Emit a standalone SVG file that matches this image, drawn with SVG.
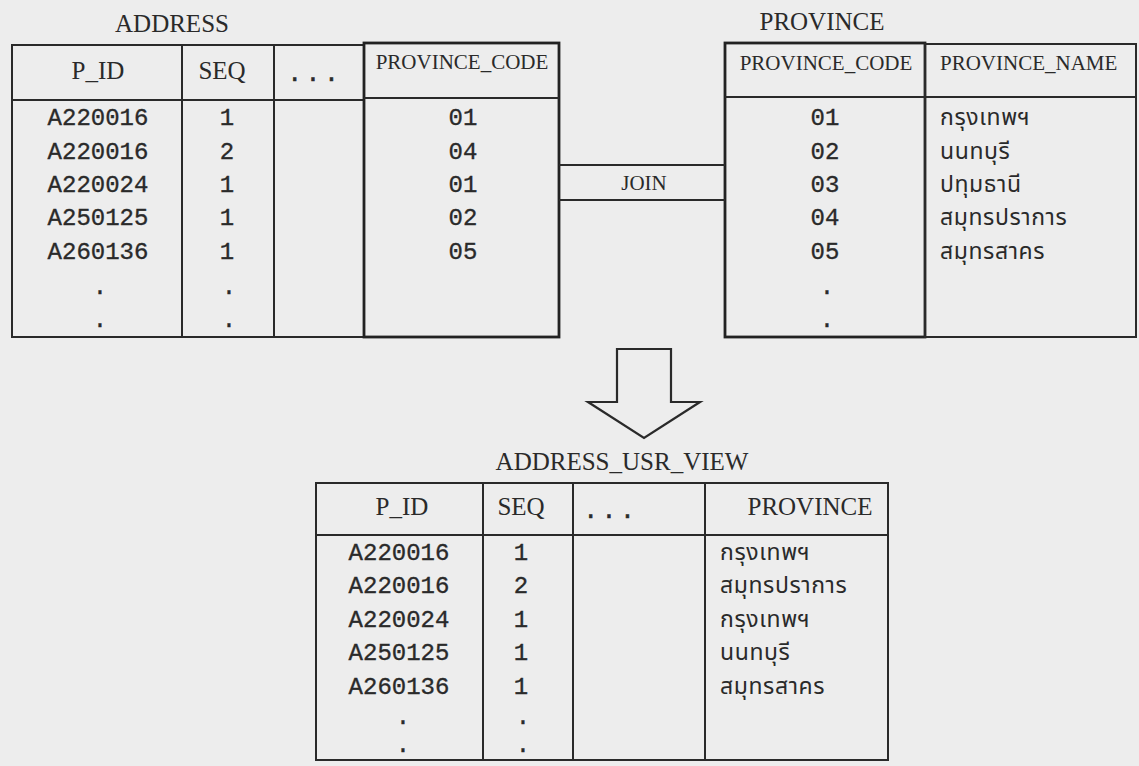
<svg xmlns="http://www.w3.org/2000/svg" width="1139" height="766" viewBox="0 0 1139 766">
<style>
.bg{fill:#ededed}
.t{fill:none;stroke:#2a2a2a;stroke-width:2}
.tk{fill:none;stroke:#222;stroke-width:2.8}
.ttl{font-family:"Liberation Serif",serif;font-size:25px;fill:#2a2a2a}
.hd{font-family:"Liberation Serif",serif;font-size:25px;fill:#2a2a2a;text-anchor:middle}
.hs{font-family:"Liberation Serif",serif;font-size:21px;fill:#2a2a2a}
.d{font-family:"Liberation Mono",monospace;font-size:24px;fill:#2a2a2a;stroke:#2a2a2a;stroke-width:0.35;text-anchor:middle}
.dots{font-family:"Liberation Mono",monospace;font-size:24px;fill:#2a2a2a;stroke:#2a2a2a;stroke-width:0.6;text-anchor:middle;letter-spacing:4px}
.th{font-family:"Noto Sans Thai","Noto Sans","DejaVu Sans",sans-serif;font-size:23px;fill:#2a2a2a;letter-spacing:0.6px}
.ln{fill:none;stroke:#2a2a2a;stroke-width:2.2}
</style>
<rect class="bg" x="0" y="0" width="1139" height="766"/>

<g id="address">
<text class="ttl" x="172" y="32" text-anchor="middle">ADDRESS</text>
<rect class="t" x="12" y="45" width="352" height="292"/>
<line class="t" x1="12" y1="100" x2="364" y2="100"/>
<line class="t" x1="182" y1="45" x2="182" y2="337"/>
<line class="t" x1="274" y1="45" x2="274" y2="337"/>
<text class="hd" x="98" y="79">P_ID</text>
<text class="hd" x="222" y="79">SEQ</text>
<text class="dots" x="315" y="81">...</text>
<g class="d">
<text x="98" y="125">A220016</text>
<text x="98" y="159">A220016</text>
<text x="98" y="192">A220024</text>
<text x="98" y="225">A250125</text>
<text x="98" y="259">A260136</text>
<text x="100" y="294">.</text>
<text x="100" y="327">.</text>
<text x="227" y="125">1</text>
<text x="227" y="159">2</text>
<text x="227" y="192">1</text>
<text x="227" y="225">1</text>
<text x="227" y="259">1</text>
<text x="229" y="294">.</text>
<text x="229" y="327">.</text>
</g>
<rect class="tk" x="364" y="43" width="195" height="294"/>
<line class="t" x1="364" y1="98" x2="559" y2="98"/>
<text class="hs" x="462" y="69" text-anchor="middle">PROVINCE_CODE</text>
<g class="d">
<text x="463" y="125">01</text>
<text x="463" y="159">04</text>
<text x="463" y="192">01</text>
<text x="463" y="225">02</text>
<text x="463" y="259">05</text>
</g>
</g>

<g id="province">
<text class="ttl" x="822" y="30" text-anchor="middle">PROVINCE</text>
<rect class="tk" x="725" y="43" width="200" height="294"/>
<rect class="t" x="925" y="44" width="211" height="293"/>
<line class="t" x1="725" y1="97" x2="1136" y2="97"/>
<text class="hs" x="826" y="70" text-anchor="middle">PROVINCE_CODE</text>
<text class="hs" x="940" y="70">PROVINCE_NAME</text>
<g class="d">
<text x="825" y="125">01</text>
<text x="825" y="159">02</text>
<text x="825" y="192">03</text>
<text x="825" y="225">04</text>
<text x="825" y="259">05</text>
<text x="827" y="294">.</text>
<text x="827" y="327">.</text>
</g>
<g class="th">
<text x="940" y="125">กรุงเทพฯ</text>
<text x="940" y="159">นนทบุรี</text>
<text x="940" y="192">ปทุมธานี</text>
<text x="940" y="225">สมุทรปราการ</text>
<text x="940" y="259">สมุทรสาคร</text>
</g>
</g>

<g id="connectors">
<line class="ln" x1="559" y1="165" x2="725" y2="165"/>
<line class="ln" x1="559" y1="200" x2="725" y2="200"/>
<text class="hs" x="644" y="190" text-anchor="middle">JOIN</text>
<polygon class="ln" points="617,349 671,349 671,402 700,402 644,438 588,402 617,402"/>
</g>

<g id="address_usr_view">
<text class="ttl" x="622" y="470" text-anchor="middle">ADDRESS_USR_VIEW</text>
<rect class="t" x="316" y="483" width="572" height="277"/>
<line class="t" x1="316" y1="535" x2="888" y2="535"/>
<line class="t" x1="483" y1="483" x2="483" y2="760"/>
<line class="t" x1="573" y1="483" x2="573" y2="760"/>
<line class="t" x1="705" y1="483" x2="705" y2="760"/>
<text class="hd" x="402" y="515">P_ID</text>
<text class="hd" x="521" y="515">SEQ</text>
<text class="hd" x="810" y="515">PROVINCE</text>
<text class="dots" x="611" y="518">...</text>
<g class="d">
<text x="399" y="560">A220016</text>
<text x="399" y="593">A220016</text>
<text x="399" y="627">A220024</text>
<text x="399" y="660">A250125</text>
<text x="399" y="694">A260136</text>
<text x="403" y="724">.</text>
<text x="403" y="752">.</text>
<text x="521" y="560">1</text>
<text x="521" y="593">2</text>
<text x="521" y="627">1</text>
<text x="521" y="660">1</text>
<text x="521" y="694">1</text>
<text x="523" y="724">.</text>
<text x="523" y="752">.</text>
</g>
<g class="th">
<text x="720" y="560">กรุงเทพฯ</text>
<text x="720" y="593">สมุทรปราการ</text>
<text x="720" y="627">กรุงเทพฯ</text>
<text x="720" y="660">นนทบุรี</text>
<text x="720" y="694">สมุทรสาคร</text>
</g>
</g>
</svg>
